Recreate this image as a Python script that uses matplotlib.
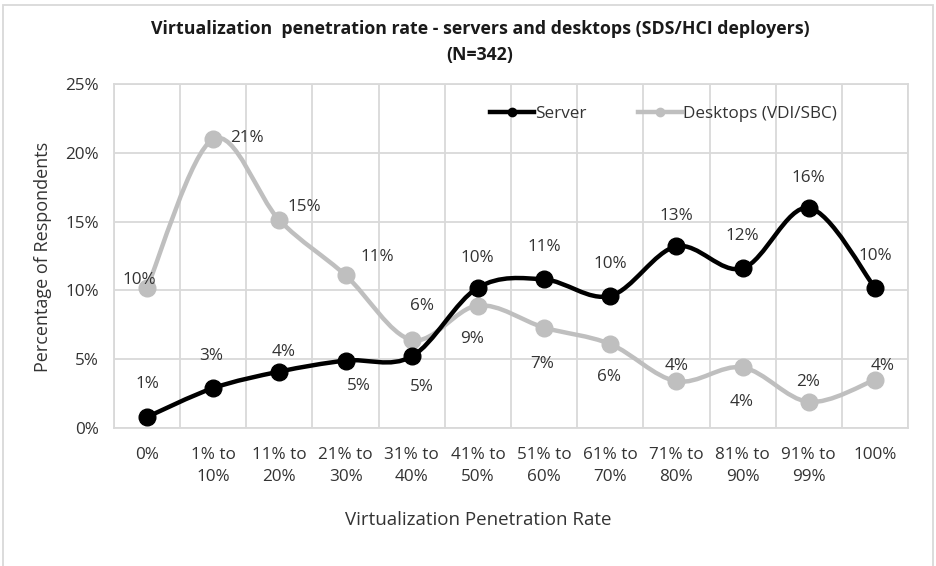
import numpy as np
import matplotlib
matplotlib.use("Agg")
from matplotlib import pyplot as plt
from matplotlib.path import Path
from matplotlib.patches import PathPatch, Rectangle
from matplotlib.lines import Line2D
from matplotlib.ticker import FixedLocator, FuncFormatter

plt.rcParams['font.family'] = ['Open Sans', 'DejaVu Sans']

# data (percent of respondents)
categories = ["0%", "1% to\n10%", "11% to\n20%", "21% to\n30%", "31% to\n40%",
              "41% to\n50%", "51% to\n60%", "61% to\n70%", "71% to\n80%",
              "81% to\n90%", "91% to\n99%", "100%"]
server = [0.8, 2.9, 4.1, 4.9, 5.2, 10.2, 10.8, 9.6, 13.2, 11.6, 16.0, 10.2]
desktops = [10.2, 21.0, 15.1, 11.1, 6.4, 8.9, 7.3, 6.1, 3.4, 4.4, 1.9, 3.5]
server_labels = ["1%", "3%", "4%", "5%", "5%", "10%", "11%", "10%", "13%", "12%", "16%", "10%"]
desktop_labels = ["10%", "21%", "15%", "11%", "6%", "9%", "7%", "6%", "4%", "4%", "2%", "4%"]

# label offsets in pixels (dx, dy) relative to each marker
server_offsets = [(0, 33), (-2, 32), (4, 20), (13, -25), (10, -31), (-1, 30),
                  (0, 32), (0, 32), (0, 30), (0, 32), (0, 30), (0, 32)]
desktop_offsets = [(-8, 8), (34, 1), (25, 13), (32, 18), (10, 34), (-6, -33),
                   (-2, -36), (-1, -33), (0, 15), (-1, -35), (-1, 20), (8, 14)]

SERVER_C = "#000000"
DESK_C = "#bfbfbf"
GRID_C = "#d9d9d9"
TXT_C = "#333333"
FS = 12.3


def smooth_path(xs, ys):
    """excel-like smoothed line as a cubic bezier path through the points"""
    pts = np.column_stack([xs, ys]).astype(float)
    n = len(pts)
    verts = [pts[0]]
    codes = [Path.MOVETO]
    for i in range(n - 1):
        p0 = pts[max(i - 1, 0)]
        p1 = pts[i]
        p2 = pts[i + 1]
        p3 = pts[min(i + 2, n - 1)]
        c1 = p1 + (p2 - p0) / 6.0
        c2 = p2 - (p3 - p1) / 6.0
        verts += [c1, c2, p2]
        codes += [Path.CURVE4] * 3
    return Path(verts, codes)


fig = plt.figure(figsize=(9.37, 5.66), dpi=100)
ax = fig.add_axes([114/937, 1 - 428/566, (908 - 114)/937, (428 - 84)/566])

x = np.arange(len(categories))

for vals, color, z in [(desktops, DESK_C, 3), (server, SERVER_C, 4)]:
    patch = PathPatch(smooth_path(x, vals), fill=False, edgecolor=color, lw=3.2,
                      capstyle='round', joinstyle='round', zorder=z)
    ax.add_patch(patch)
    ax.plot(x, vals, linestyle='none', marker='o', markersize=12,
            color=color, zorder=z + 0.5)

for vals, labels, offs in [(server, server_labels, server_offsets),
                           (desktops, desktop_labels, desktop_offsets)]:
    for xi, v, lab, (dx, dy) in zip(x, vals, labels, offs):
        ax.annotate(lab, (xi, v), xytext=(dx, dy), textcoords='offset pixels',
                    ha='center', va='center', fontsize=FS, color=TXT_C, zorder=10)

ax.set_xlim(-0.5, len(categories) - 0.5)
ax.set_ylim(0, 25)
ax.set_xticks(x)
ax.set_xticklabels(categories, linespacing=1.5)
ax.xaxis.set_minor_locator(FixedLocator(np.arange(len(categories) + 1) - 0.5))
ax.set_yticks(np.arange(0, 26, 5))
ax.yaxis.set_major_formatter(FuncFormatter(lambda v, p: f"{v:.0f}%"))
ax.grid(True, which='minor', axis='x', color=GRID_C, lw=1.3)
ax.grid(True, which='major', axis='y', color=GRID_C, lw=1.3)
ax.set_axisbelow(True)
ax.tick_params(which='both', length=0, labelsize=FS, colors=TXT_C)
ax.tick_params(axis='x', pad=14)
ax.tick_params(axis='y', pad=11)
for s in ax.spines.values():
    s.set_color(GRID_C)
    s.set_linewidth(1.3)

handles = [Line2D([], [], color=SERVER_C, lw=3.2, marker='o', markersize=6),
           Line2D([], [], color=DESK_C, lw=3.2, marker='o', markersize=6)]
fig.legend(handles, ["Server", "Desktops (VDI/SBC)"], loc='center left',
           bbox_to_anchor=(490/937, 1 - 114/566), ncol=2, frameon=False,
           borderpad=0, borderaxespad=0, handlelength=2.6, handletextpad=0.05,
           columnspacing=3.0, fontsize=FS, labelcolor=TXT_C)

fig.text(480/937, 1 - 42/566,
         "Virtualization  penetration rate - servers and desktops (SDS/HCI deployers)\n(N=342)",
         ha='center', va='center', fontsize=12.8, fontweight='bold', color='#1a1a1a',
         linespacing=1.6)
fig.text(43/937, 1 - 257/566, "Percentage of Respondents", rotation=90,
         ha='center', va='center', fontsize=13, color=TXT_C)
fig.text(478/937, 1 - 520/566, "Virtualization Penetration Rate",
         ha='center', va='center', fontsize=13.5, color=TXT_C)

fig.add_artist(Rectangle((3/937, -0.01), (933 - 3)/937, (566 - 5)/566 + 0.01,
                         transform=fig.transFigure, fill=False,
                         edgecolor=GRID_C, lw=1.3))

fig.savefig("out.png", dpi=100)
